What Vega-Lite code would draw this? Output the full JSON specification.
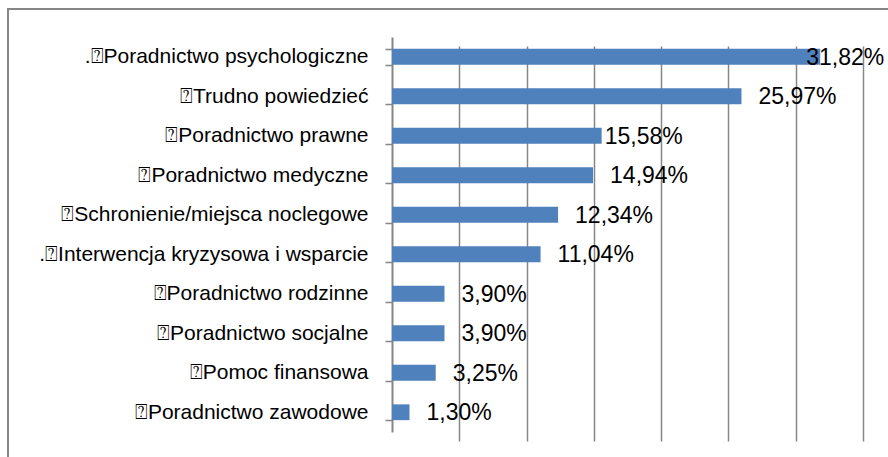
{
  "$schema": "https://vega.github.io/schema/vega-lite/v6.json",
  "width": 900,
  "height": 460,
  "autosize": {"type": "none"},
  "padding": {"left": 8, "top": 9, "right": 0, "bottom": 0},
  "background": "white",
  "config": {
    "view": {"stroke": "#868686", "strokeWidth": 2},
    "locale": {
      "number": {"decimal": ",", "thousands": "\u00a0", "grouping": [3], "currency": ["", " zł"]}
    },
    "font": "Liberation Sans"
  },
  "data": {
    "values": [
      {"pomoc": ".⍰Poradnictwo psychologiczne", "udzial": 0.3182},
      {"pomoc": "⍰Trudno powiedzieć\u00a0", "udzial": 0.2597},
      {"pomoc": "⍰Poradnictwo prawne", "udzial": 0.1558},
      {"pomoc": "⍰Poradnictwo medyczne", "udzial": 0.1494},
      {"pomoc": "⍰Schronienie/miejsca noclegowe", "udzial": 0.1234},
      {"pomoc": ".⍰Interwencja kryzysowa i wsparcie", "udzial": 0.1104},
      {"pomoc": "⍰Poradnictwo rodzinne", "udzial": 0.039},
      {"pomoc": "⍰Poradnictwo socjalne", "udzial": 0.039},
      {"pomoc": "⍰Pomoc finansowa", "udzial": 0.0325},
      {"pomoc": "⍰Poradnictwo zawodowe\u00a0", "udzial": 0.013}
    ]
  },
  "encoding": {
    "y": {
      "field": "pomoc",
      "type": "nominal",
      "sort": null,
      "scale": {"range": [28, 423], "paddingInner": 0.6, "paddingOuter": 0.3},
      "axis": {
        "title": null,
        "orient": "left",
        "offset": -384,
        "domainColor": "#868686",
        "domainWidth": 2,
        "tickColor": "#868686",
        "tickWidth": 1.5,
        "tickSize": 7,
        "tickBand": "extent",
        "labelPadding": 17,
        "labelFont": "Liberation Sans",
        "labelFontSize": 21,
        "labelColor": "#000000",
        "labelLimit": 500,
        "grid": false
      }
    },
    "x": {
      "field": "udzial",
      "type": "quantitative",
      "scale": {"domain": [0, 0.35], "range": [384, 855], "nice": false},
      "axis": {
        "title": null,
        "values": [0.05, 0.1, 0.15, 0.2, 0.25, 0.3, 0.35],
        "grid": true,
        "gridColor": "#868686",
        "gridWidth": 1.5,
        "labels": false,
        "ticks": false,
        "domain": false
      }
    },
    "text": {"field": "udzial", "type": "quantitative", "format": ".2%"}
  },
  "layer": [
    {"mark": {"type": "bar", "color": "#4F81BD"}, "encoding": {"text": null}},
    {
      "transform": [{"filter": "datum.udzial < 0.15 || (datum.udzial > 0.16 && datum.udzial < 0.3)"}],
      "mark": {
        "type": "text", "align": "left", "baseline": "middle",
        "dx": 17, "dy": 1, "fontSize": 23, "font": "Liberation Sans", "color": "#000000"
      }
    },
    {
      "transform": [{"filter": "datum.udzial > 0.15 && datum.udzial < 0.16"}],
      "mark": {
        "type": "text", "align": "left", "baseline": "middle",
        "dx": 3, "dy": 1, "fontSize": 23, "font": "Liberation Sans", "color": "#000000"
      }
    },
    {
      "transform": [{"filter": "datum.udzial >= 0.3"}],
      "mark": {
        "type": "text", "align": "left", "baseline": "middle",
        "dx": -14, "dy": 1, "fontSize": 23, "font": "Liberation Sans", "color": "#000000"
      }
    }
  ]
}
